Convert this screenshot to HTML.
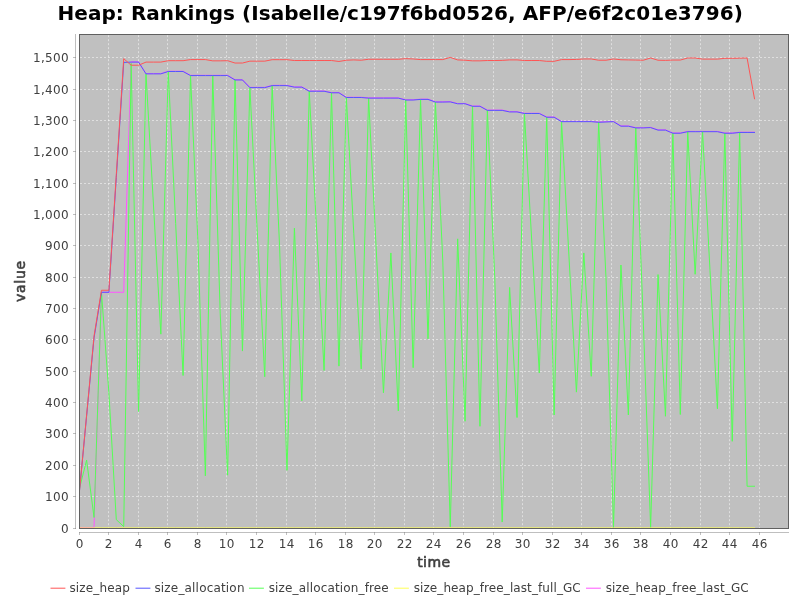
<!DOCTYPE html>
<html><head><meta charset="utf-8"><title>Heap: Rankings</title>
<style>
html,body{margin:0;padding:0;background:#fff;}
body{width:800px;height:600px;overflow:hidden;}
svg{display:block;}
text{font-family:"DejaVu Sans","Liberation Sans",sans-serif;}
.t{font-size:12px;fill:#404040;letter-spacing:0.36px;}
.lg{font-size:12px;fill:#404040;}
.ax{font-size:14px;fill:#404040;letter-spacing:0.7px;stroke:#404040;stroke-width:0.6px;stroke-linejoin:round;}
</style></head><body>
<svg width="800" height="600" viewBox="0 0 800 600">
<rect x="0" y="0" width="800" height="600" fill="#ffffff"/>
<text x="57.5" y="19.5" textLength="685.3" lengthAdjust="spacing" style="font-size:20px;font-weight:bold;fill:#000">Heap: Rankings (Isabelle/c197f6bd0526, AFP/e6f2c01e3796)</text>
<rect x="79" y="34" width="710" height="495" fill="#c0c0c0"/>
<g stroke="#ffffff" stroke-width="0.5" stroke-dasharray="2,2" fill="none">
<line x1="79.5" y1="35.2" x2="79.5" y2="528"/><line x1="108.5" y1="35.2" x2="108.5" y2="528"/><line x1="138.5" y1="35.2" x2="138.5" y2="528"/><line x1="167.5" y1="35.2" x2="167.5" y2="528"/><line x1="197.5" y1="35.2" x2="197.5" y2="528"/><line x1="226.5" y1="35.2" x2="226.5" y2="528"/><line x1="256.5" y1="35.2" x2="256.5" y2="528"/><line x1="286.5" y1="35.2" x2="286.5" y2="528"/><line x1="315.5" y1="35.2" x2="315.5" y2="528"/><line x1="345.5" y1="35.2" x2="345.5" y2="528"/><line x1="374.5" y1="35.2" x2="374.5" y2="528"/><line x1="404.5" y1="35.2" x2="404.5" y2="528"/><line x1="433.5" y1="35.2" x2="433.5" y2="528"/><line x1="463.5" y1="35.2" x2="463.5" y2="528"/><line x1="493.5" y1="35.2" x2="493.5" y2="528"/><line x1="522.5" y1="35.2" x2="522.5" y2="528"/><line x1="552.5" y1="35.2" x2="552.5" y2="528"/><line x1="581.5" y1="35.2" x2="581.5" y2="528"/><line x1="611.5" y1="35.2" x2="611.5" y2="528"/><line x1="640.5" y1="35.2" x2="640.5" y2="528"/><line x1="670.5" y1="35.2" x2="670.5" y2="528"/><line x1="700.5" y1="35.2" x2="700.5" y2="528"/><line x1="729.5" y1="35.2" x2="729.5" y2="528"/><line x1="759.5" y1="35.2" x2="759.5" y2="528"/><line x1="80" y1="528.5" x2="788" y2="528.5"/><line x1="80" y1="496.5" x2="788" y2="496.5"/><line x1="80" y1="465.5" x2="788" y2="465.5"/><line x1="80" y1="433.5" x2="788" y2="433.5"/><line x1="80" y1="402.5" x2="788" y2="402.5"/><line x1="80" y1="371.5" x2="788" y2="371.5"/><line x1="80" y1="339.5" x2="788" y2="339.5"/><line x1="80" y1="308.5" x2="788" y2="308.5"/><line x1="80" y1="277.5" x2="788" y2="277.5"/><line x1="80" y1="245.5" x2="788" y2="245.5"/><line x1="80" y1="214.5" x2="788" y2="214.5"/><line x1="80" y1="183.5" x2="788" y2="183.5"/><line x1="80" y1="151.5" x2="788" y2="151.5"/><line x1="80" y1="120.5" x2="788" y2="120.5"/><line x1="80" y1="89.5" x2="788" y2="89.5"/><line x1="80" y1="57.5" x2="788" y2="57.5"/></g>
<clipPath id="c"><rect x="79" y="34" width="710" height="495"/></clipPath>
<g clip-path="url(#c)" fill="none" stroke-width="1" stroke-linejoin="miter" stroke-linecap="square">
<polyline stroke="#ff55ff" points="79.20,527.50 86.62,527.50 94.04,527.50 101.46,292.29 108.88,292.29 116.31,292.29 123.73,292.29 131.15,61.82 138.57,61.82 145.99,73.57 153.41,73.57 160.83,73.57 168.25,71.22 175.67,71.22 183.09,71.22 190.52,75.30 197.94,75.30 205.36,75.30 212.78,75.30 220.20,75.30 227.62,75.30 235.04,79.68 242.46,79.68 249.88,87.36 257.30,87.36 264.73,87.36 272.15,85.32 279.57,85.32 286.99,85.32 294.41,86.89 301.83,86.89 309.25,90.97 316.67,90.97 324.09,90.97 331.52,92.53 338.94,92.53 346.36,97.23 353.78,97.23 361.20,97.23 368.62,97.86 376.04,97.86 383.46,97.86 390.88,97.86 398.30,97.86 405.73,99.74 413.15,99.74 420.57,99.11 427.99,99.11 435.41,101.78 442.83,101.78 450.25,101.62 457.67,103.50 465.09,103.50 472.51,106.01 479.94,106.01 487.36,110.08 494.78,110.08 502.20,110.08 509.62,111.65 517.04,111.65 524.46,113.22 531.88,113.22 539.30,113.22 546.72,116.98 554.15,116.98 561.57,121.36 568.99,121.36 576.41,121.36 583.83,121.36 591.25,121.36 598.67,121.99 606.09,121.68 613.51,121.36 620.94,125.91 628.36,125.91 635.78,127.63 643.20,127.63 650.62,127.32 658.04,129.83 665.46,129.83 672.88,132.96 680.30,132.96 687.72,131.39 695.15,131.39 702.57,131.39 709.99,131.39 717.41,131.39 724.83,132.96 732.25,132.96 739.67,132.18 747.09,132.18 754.51,132.18"/>
<polyline stroke="#ffff55" stroke-opacity="0.58" points="79.20,527.50 86.62,527.50 94.04,527.50 101.46,527.50 108.88,527.50 116.31,527.50 123.73,527.50 131.15,527.50 138.57,527.50 145.99,527.50 153.41,527.50 160.83,527.50 168.25,527.50 175.67,527.50 183.09,527.50 190.52,527.50 197.94,527.50 205.36,527.50 212.78,527.50 220.20,527.50 227.62,527.50 235.04,527.50 242.46,527.50 249.88,527.50 257.30,527.50 264.73,527.50 272.15,527.50 279.57,527.50 286.99,527.50 294.41,527.50 301.83,527.50 309.25,527.50 316.67,527.50 324.09,527.50 331.52,527.50 338.94,527.50 346.36,527.50 353.78,527.50 361.20,527.50 368.62,527.50 376.04,527.50 383.46,527.50 390.88,527.50 398.30,527.50 405.73,527.50 413.15,527.50 420.57,527.50 427.99,527.50 435.41,527.50 442.83,527.50 450.25,527.50 457.67,527.50 465.09,527.50 472.51,527.50 479.94,527.50 487.36,527.50 494.78,527.50 502.20,527.50 509.62,527.50 517.04,527.50 524.46,527.50 531.88,527.50 539.30,527.50 546.72,527.50 554.15,527.50 561.57,527.50 568.99,527.50 576.41,527.50 583.83,527.50 591.25,527.50 598.67,527.50 606.09,527.50 613.51,527.50 620.94,527.50 628.36,527.50 635.78,527.50 643.20,527.50 650.62,527.50 658.04,527.50 665.46,527.50 672.88,527.50 680.30,527.50 687.72,527.50 695.15,527.50 702.57,527.50 709.99,527.50 717.41,527.50 724.83,527.50 732.25,527.50 739.67,527.50 747.09,527.50 754.51,527.50"/>
<polyline stroke="#55ff55" points="79.20,489.58 86.62,460.12 94.04,517.47 101.46,292.29 108.88,392.74 116.31,519.66 123.73,526.56 131.15,63.35 138.57,411.54 145.99,73.85 153.41,203.99 160.83,334.13 168.25,71.50 175.67,223.50 183.09,375.50 190.52,75.58 197.94,241.99 205.36,475.79 212.78,75.58 220.20,313.13 227.62,475.16 235.04,79.96 242.46,351.06 249.88,87.64 257.30,232.20 264.73,376.75 272.15,85.61 279.57,245.75 286.99,470.30 294.41,228.20 301.83,400.89 309.25,91.25 316.67,230.87 324.09,370.49 331.52,92.81 338.94,366.10 346.36,97.52 353.78,233.22 361.20,368.92 368.62,98.14 376.04,245.44 383.46,392.74 390.88,252.96 398.30,410.92 405.73,100.02 413.15,367.67 420.57,99.40 427.99,338.83 435.41,102.06 442.83,262.05 450.25,526.87 457.67,238.86 465.09,421.26 472.51,106.29 479.94,426.27 487.36,110.36 494.78,278.03 502.20,522.02 509.62,287.44 517.04,417.50 524.46,113.50 531.88,243.25 539.30,372.99 546.72,117.26 554.15,414.99 561.57,121.65 568.99,256.88 576.41,392.11 583.83,252.96 591.25,376.25 598.67,122.27 606.09,279.91 613.51,527.19 620.94,265.00 628.36,414.99 635.78,127.91 643.20,318.46 650.62,527.19 658.04,274.59 665.46,416.24 672.88,133.24 680.30,414.49 687.72,131.68 695.15,274.27 702.57,131.68 709.99,270.20 717.41,408.72 724.83,133.24 732.25,441.31 739.67,132.46 747.09,486.26 754.51,486.26"/>
<polyline stroke="#5555ff" points="79.20,493.97 86.62,415.93 94.04,337.89 101.46,292.29 108.88,292.29 116.31,177.43 123.73,62.41 131.15,62.10 138.57,62.10 145.99,73.85 153.41,73.85 160.83,73.85 168.25,71.50 175.67,71.50 183.09,71.50 190.52,75.58 197.94,75.58 205.36,75.58 212.78,75.58 220.20,75.58 227.62,75.58 235.04,79.96 242.46,79.96 249.88,87.64 257.30,87.64 264.73,87.64 272.15,85.61 279.57,85.61 286.99,85.61 294.41,87.17 301.83,87.17 309.25,91.25 316.67,91.25 324.09,91.25 331.52,92.81 338.94,92.81 346.36,97.52 353.78,97.52 361.20,97.52 368.62,98.14 376.04,98.14 383.46,98.14 390.88,98.14 398.30,98.14 405.73,100.02 413.15,100.02 420.57,99.40 427.99,99.40 435.41,102.06 442.83,102.06 450.25,101.90 457.67,103.78 465.09,103.78 472.51,106.29 479.94,106.29 487.36,110.36 494.78,110.36 502.20,110.36 509.62,111.93 517.04,111.93 524.46,113.50 531.88,113.50 539.30,113.50 546.72,117.26 554.15,117.26 561.57,121.65 568.99,121.65 576.41,121.65 583.83,121.65 591.25,121.65 598.67,122.27 606.09,121.96 613.51,121.65 620.94,126.19 628.36,126.19 635.78,127.91 643.20,127.91 650.62,127.60 658.04,130.11 665.46,130.11 672.88,133.24 680.30,133.24 687.72,131.68 695.15,131.68 702.57,131.68 709.99,131.68 717.41,131.68 724.83,133.24 732.25,133.24 739.67,132.46 747.09,132.46 754.51,132.46"/>
<polyline stroke="#ff5555" points="79.20,493.97 86.62,414.99 94.04,336.01 101.46,290.26 108.88,290.26 116.31,174.61 123.73,58.65 131.15,65.23 138.57,65.23 145.99,62.10 153.41,62.10 160.83,62.10 168.25,60.69 175.67,60.69 183.09,60.69 190.52,59.59 197.94,59.59 205.36,59.59 212.78,60.85 220.20,60.85 227.62,60.69 235.04,63.04 242.46,63.04 249.88,61.16 257.30,61.16 264.73,61.16 272.15,59.69 279.57,59.69 286.99,59.69 294.41,60.53 301.83,60.53 309.25,60.53 316.67,60.53 324.09,60.53 331.52,60.53 338.94,61.47 346.36,60.22 353.78,59.91 361.20,60.22 368.62,59.28 376.04,59.28 383.46,59.28 390.88,59.28 398.30,59.28 405.73,58.65 413.15,58.97 420.57,59.59 427.99,59.59 435.41,59.59 442.83,59.59 450.25,57.40 457.67,59.91 465.09,60.22 472.51,60.85 479.94,60.85 487.36,60.53 494.78,60.53 502.20,60.38 509.62,59.91 517.04,59.91 524.46,60.53 531.88,60.53 539.30,60.53 546.72,61.32 554.15,61.32 561.57,59.59 568.99,59.59 576.41,59.44 583.83,58.97 591.25,58.97 598.67,60.22 606.09,60.22 613.51,58.97 620.94,59.75 628.36,59.91 635.78,60.06 643.20,60.22 650.62,58.03 658.04,60.22 665.46,60.38 672.88,60.06 680.30,60.06 687.72,58.03 695.15,58.03 702.57,59.12 709.99,59.12 717.41,59.12 724.83,58.34 732.25,58.34 739.67,58.18 747.09,58.03 754.51,98.77"/>
</g>
<rect x="79.5" y="34.5" width="709" height="494" fill="none" stroke="#606060" stroke-width="1"/>
<g stroke="#808080" stroke-opacity="0.5" stroke-width="1" fill="none">
<line x1="75.5" y1="34" x2="75.5" y2="529"/><line x1="79" y1="532.5" x2="789" y2="532.5"/><line x1="79.5" y1="532" x2="79.5" y2="535"/><line x1="108.5" y1="532" x2="108.5" y2="535"/><line x1="138.5" y1="532" x2="138.5" y2="535"/><line x1="167.5" y1="532" x2="167.5" y2="535"/><line x1="197.5" y1="532" x2="197.5" y2="535"/><line x1="226.5" y1="532" x2="226.5" y2="535"/><line x1="256.5" y1="532" x2="256.5" y2="535"/><line x1="286.5" y1="532" x2="286.5" y2="535"/><line x1="315.5" y1="532" x2="315.5" y2="535"/><line x1="345.5" y1="532" x2="345.5" y2="535"/><line x1="374.5" y1="532" x2="374.5" y2="535"/><line x1="404.5" y1="532" x2="404.5" y2="535"/><line x1="433.5" y1="532" x2="433.5" y2="535"/><line x1="463.5" y1="532" x2="463.5" y2="535"/><line x1="493.5" y1="532" x2="493.5" y2="535"/><line x1="522.5" y1="532" x2="522.5" y2="535"/><line x1="552.5" y1="532" x2="552.5" y2="535"/><line x1="581.5" y1="532" x2="581.5" y2="535"/><line x1="611.5" y1="532" x2="611.5" y2="535"/><line x1="640.5" y1="532" x2="640.5" y2="535"/><line x1="670.5" y1="532" x2="670.5" y2="535"/><line x1="700.5" y1="532" x2="700.5" y2="535"/><line x1="729.5" y1="532" x2="729.5" y2="535"/><line x1="759.5" y1="532" x2="759.5" y2="535"/><line x1="73" y1="528.5" x2="76" y2="528.5"/><line x1="73" y1="496.5" x2="76" y2="496.5"/><line x1="73" y1="465.5" x2="76" y2="465.5"/><line x1="73" y1="433.5" x2="76" y2="433.5"/><line x1="73" y1="402.5" x2="76" y2="402.5"/><line x1="73" y1="371.5" x2="76" y2="371.5"/><line x1="73" y1="339.5" x2="76" y2="339.5"/><line x1="73" y1="308.5" x2="76" y2="308.5"/><line x1="73" y1="277.5" x2="76" y2="277.5"/><line x1="73" y1="245.5" x2="76" y2="245.5"/><line x1="73" y1="214.5" x2="76" y2="214.5"/><line x1="73" y1="183.5" x2="76" y2="183.5"/><line x1="73" y1="151.5" x2="76" y2="151.5"/><line x1="73" y1="120.5" x2="76" y2="120.5"/><line x1="73" y1="89.5" x2="76" y2="89.5"/><line x1="73" y1="57.5" x2="76" y2="57.5"/></g>
<text class="t" x="79.7" y="548" text-anchor="middle">0</text><text class="t" x="108.7" y="548" text-anchor="middle">2</text><text class="t" x="138.7" y="548" text-anchor="middle">4</text><text class="t" x="167.7" y="548" text-anchor="middle">6</text><text class="t" x="197.7" y="548" text-anchor="middle">8</text><text class="t" x="226.7" y="548" text-anchor="middle">10</text><text class="t" x="256.7" y="548" text-anchor="middle">12</text><text class="t" x="286.7" y="548" text-anchor="middle">14</text><text class="t" x="315.7" y="548" text-anchor="middle">16</text><text class="t" x="345.7" y="548" text-anchor="middle">18</text><text class="t" x="374.7" y="548" text-anchor="middle">20</text><text class="t" x="404.7" y="548" text-anchor="middle">22</text><text class="t" x="433.7" y="548" text-anchor="middle">24</text><text class="t" x="463.7" y="548" text-anchor="middle">26</text><text class="t" x="493.7" y="548" text-anchor="middle">28</text><text class="t" x="522.7" y="548" text-anchor="middle">30</text><text class="t" x="552.7" y="548" text-anchor="middle">32</text><text class="t" x="581.7" y="548" text-anchor="middle">34</text><text class="t" x="611.7" y="548" text-anchor="middle">36</text><text class="t" x="640.7" y="548" text-anchor="middle">38</text><text class="t" x="670.7" y="548" text-anchor="middle">40</text><text class="t" x="700.7" y="548" text-anchor="middle">42</text><text class="t" x="729.7" y="548" text-anchor="middle">44</text><text class="t" x="759.7" y="548" text-anchor="middle">46</text>
<text class="t" x="69.1" y="533.0" text-anchor="end">0</text><text class="t" x="69.1" y="501.0" text-anchor="end">100</text><text class="t" x="69.1" y="470.0" text-anchor="end">200</text><text class="t" x="69.1" y="438.0" text-anchor="end">300</text><text class="t" x="69.1" y="407.0" text-anchor="end">400</text><text class="t" x="69.1" y="376.0" text-anchor="end">500</text><text class="t" x="69.1" y="344.0" text-anchor="end">600</text><text class="t" x="69.1" y="313.0" text-anchor="end">700</text><text class="t" x="69.1" y="282.0" text-anchor="end">800</text><text class="t" x="69.1" y="250.0" text-anchor="end">900</text><text class="t" x="69.1" y="219.0" text-anchor="end">1,000</text><text class="t" x="69.1" y="188.0" text-anchor="end">1,100</text><text class="t" x="69.1" y="156.0" text-anchor="end">1,200</text><text class="t" x="69.1" y="125.0" text-anchor="end">1,300</text><text class="t" x="69.1" y="94.0" text-anchor="end">1,400</text><text class="t" x="69.1" y="62.0" text-anchor="end">1,500</text>
<text class="ax" x="433.9" y="567" text-anchor="middle" style="letter-spacing:0.45px">time</text>
<text class="ax" transform="translate(25.2,281.1) rotate(-90)" text-anchor="middle">value</text>
<line x1="50.5" y1="588.2" x2="65.4" y2="588.2" stroke="#ff5555" stroke-width="1"/><text class="lg" x="69.4" y="592" textLength="60.4" lengthAdjust="spacing">size_heap</text>
<line x1="135.5" y1="588.2" x2="150.4" y2="588.2" stroke="#5555ff" stroke-width="1"/><text class="lg" x="154.4" y="592" textLength="90.10000000000001" lengthAdjust="spacing">size_allocation</text>
<line x1="249.0" y1="588.2" x2="263.9" y2="588.2" stroke="#55ff55" stroke-width="1"/><text class="lg" x="268.65" y="592" textLength="120.10000000000001" lengthAdjust="spacing">size_allocation_free</text>
<line x1="394.0" y1="588.2" x2="408.9" y2="588.2" stroke="#ffff55" stroke-width="1"/><text class="lg" x="413.65" y="592" textLength="167.1" lengthAdjust="spacing">size_heap_free_last_full_GC</text>
<line x1="586.0" y1="588.2" x2="600.9" y2="588.2" stroke="#ff55ff" stroke-width="1"/><text class="lg" x="605.65" y="592" textLength="143.1" lengthAdjust="spacing">size_heap_free_last_GC</text>
</svg>
</body></html>
